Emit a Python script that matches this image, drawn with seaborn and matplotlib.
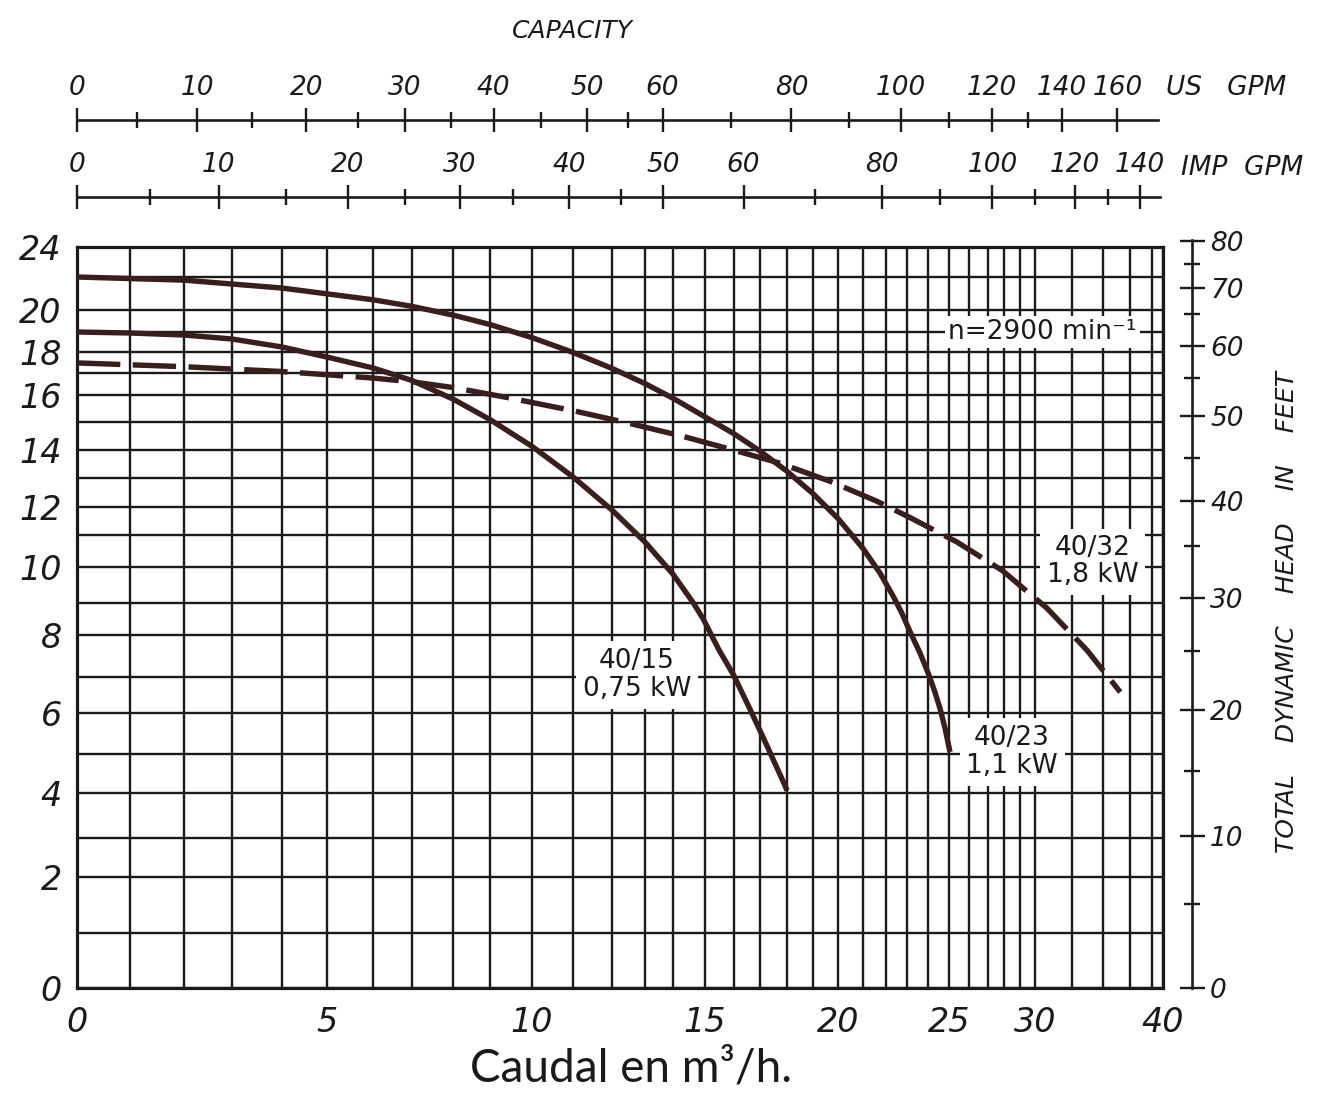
import numpy as np
import pandas as pd
import matplotlib
matplotlib.use("Agg")
import matplotlib.pyplot as plt
from matplotlib.ticker import FixedLocator, NullFormatter
import seaborn as sns

# ---------------- data ----------------
Q_4015 = [0, 1, 2, 3, 4, 5, 6, 7, 8, 9, 10, 11, 12, 13, 14, 14.63, 14.94, 15.47, 15.99, 16.62,
          17.12, 17.92, 18.0]
H_4015 = [19.0, 18.95, 18.85, 18.65, 18.25, 17.76, 17.24, 16.66, 15.85, 15.09, 14.13, 13.04, 11.89,
          10.78, 9.8, 9.01, 8.51, 7.66, 7.04, 6.1, 5.4, 4.2, 4.06]

Q_4023 = [0, 2, 4, 6, 7, 8, 9, 10, 11, 12, 13, 14, 15, 16, 17, 18, 19, 20, 21, 21.74, 22.35, 22.75,
          23.14, 23.62, 24.01, 24.33, 24.57, 24.81, 25.05]
H_4023 = [22.0, 21.81, 21.33, 20.62, 20.22, 19.77, 19.34, 18.72, 17.98, 17.22, 16.52, 15.88, 15.19,
          14.58, 13.96, 13.24, 12.46, 11.59, 10.58, 9.83, 9.18, 8.69, 8.11, 7.57, 7.09, 6.58, 6.13,
          5.63, 5.05]

Q_4032 = [0, 2, 4, 6, 7, 8, 9.4, 10.5, 11, 12.5, 14.3, 15.9, 17.7, 19.7, 21.6, 23.1, 25.4, 27.9,
          30.8, 33.7, 36.6]
H_4032 = [17.48, 17.3, 17.07, 16.77, 16.6, 16.34, 15.91, 15.57, 15.42, 14.96, 14.49, 14.02, 13.54,
          12.88, 12.2, 11.64, 10.78, 9.9, 8.84, 7.64, 6.58]

MODELS = ["40/15", "40/23", "40/32"]
MODEL_LABELS = ["40/15\n0,75 kW", "40/23\n1,1 kW", "40/32\n1,8 kW"]

Q_TICKS = [0, 5, 10, 15, 20, 25, 30, 40]
H_TICKS = [0, 2, 4, 6, 8, 10, 12, 14, 16, 18, 20, 24]
US_GPM_MAJOR = [0, 10, 20, 30, 40, 50, 60, 80, 100, 120, 140, 160]
US_GPM_MINOR = [5, 15, 25, 35, 45, 55, 70, 90, 110, 130]
IMP_GPM_MAJOR = [0, 10, 20, 30, 40, 50, 60, 80, 100, 120, 140]
IMP_GPM_MINOR = [5, 15, 25, 35, 45, 70, 90, 110, 130]
FEET_MAJOR = [0, 10, 20, 30, 40, 50, 60, 70, 80]
FEET_MINOR = [5, 15, 25, 35, 45, 55, 65, 75]
US_GPM_M3H = 0.227125
IMP_GPM_M3H = 0.272765
FT_M = 0.3048

# graph-paper grid values (nonlinear paper)
Q_GRID = list(range(0, 31)) + [32.5, 35, 37.5, 39, 40]
H_GRID = list(range(0, 21)) + [22, 24]

# ---------------- scale of the graph paper (layout) ----------------
Q_PAPER_POS = [77, 130, 184, 232, 282, 327, 373, 412, 453, 490, 532, 573, 612, 645, 673, 705, 734, 760,
               787, 813, 838, 863, 886, 907, 928, 949, 969, 988, 1004, 1020, 1035, 1072, 1103, 1130,
               1152, 1163]
H_PAPER_POS = [988, 933, 877, 838, 793, 754, 713, 677, 635, 603, 567, 535, 507, 478, 450, 422, 395, 373,
               352, 332, 310, 277, 247]


def paper_scale(values, positions):
    v = np.asarray(values, float)
    p = np.asarray(positions, float)
    if p[-1] < p[0]:
        p = -p
    s0 = (p[1] - p[0]) / (v[1] - v[0])
    s1 = (p[-1] - p[-2]) / (v[-1] - v[-2])

    def fwd(x):
        x = np.asarray(x, float)
        y = np.interp(x, v, p)
        y = np.where(x < v[0], p[0] + (x - v[0]) * s0, y)
        y = np.where(x > v[-1], p[-1] + (x - v[-1]) * s1, y)
        return y

    def inv(y):
        y = np.asarray(y, float)
        x = np.interp(y, p, v)
        x = np.where(y < p[0], v[0] + (y - p[0]) / s0, x)
        x = np.where(y > p[-1], v[-1] + (y - p[-1]) / s1, x)
        return x
    return fwd, inv


xf, xi = paper_scale(Q_GRID, Q_PAPER_POS)
yf, yi = paper_scale(H_GRID, H_PAPER_POS)

# ---------------- style ----------------
sns.set_theme(style="white")
plt.rcParams["font.family"] = ["DejaVu Sans"]
INK = "#1a1a1a"
CURVE = "#3a1e1e"

W, HH = 1319, 1102
fig = plt.figure(figsize=(W / 100, HH / 100), dpi=100)
fig.patch.set_facecolor("white")


def fx(px):
    return px / W


def fy(py):
    return 1 - py / HH


AX_L, AX_R, AX_T, AX_B = 77, 1163, 247, 988
ax = fig.add_axes([fx(AX_L), fy(AX_B), (AX_R - AX_L) / W, (AX_B - AX_T) / HH])

df = pd.concat([
    pd.DataFrame({"Q": Q_4015, "H": H_4015, "modelo": MODELS[0]}),
    pd.DataFrame({"Q": Q_4023, "H": H_4023, "modelo": MODELS[1]}),
    pd.DataFrame({"Q": Q_4032, "H": H_4032, "modelo": MODELS[2]}),
], ignore_index=True)

for m in MODELS:
    sns.lineplot(data=df[df["modelo"] == m], x="Q", y="H", ax=ax, color=CURVE, lw=3.9,
                 sort=False, estimator=None, legend=False, zorder=5)
    ln = ax.lines[-1]
    ln.set_solid_capstyle("butt")
    ln.set_solid_joinstyle("round")
    if m == "40/32":
        ln.set_dashes((8.0, 2.3))

ax.set_xscale("function", functions=(xf, xi))
ax.set_yscale("function", functions=(yf, yi))
ax.set_xlim(0, 40)
ax.set_ylim(0, 24)
ax.set_xlabel("")
ax.set_ylabel("")

ax.xaxis.set_major_locator(FixedLocator(Q_TICKS))
ax.xaxis.set_minor_locator(FixedLocator(Q_GRID))
ax.yaxis.set_major_locator(FixedLocator(H_TICKS))
ax.yaxis.set_minor_locator(FixedLocator(H_GRID))
ax.xaxis.set_minor_formatter(NullFormatter())
ax.yaxis.set_minor_formatter(NullFormatter())
ax.set_xticklabels([str(v) for v in Q_TICKS])
ax.set_yticklabels([str(v) for v in H_TICKS])
ax.set_axisbelow(True)
ax.grid(True, which="both", color=INK, lw=1.7)
ax.tick_params(which="minor", length=0)
ax.tick_params(axis="x", which="major", direction="out", length=9, width=1.8, color=INK,
               labelsize=24, labelcolor=INK, pad=4)
ax.tick_params(axis="y", which="major", direction="out", length=6, width=1.8, color=INK,
               labelsize=24, labelcolor=INK, pad=5)
for lbl in ax.get_xticklabels() + ax.get_yticklabels():
    lbl.set_fontstyle("italic")
for s in ax.spines.values():
    s.set_color(INK)
    s.set_linewidth(2.3)

# annotation boxes
box = dict(boxstyle="square,pad=0.25", facecolor="white", edgecolor="none")
ax.text(0.889, 0.885, "n=2900 min\u207b\u00b9", transform=ax.transAxes, ha="center", va="center",
        fontsize=19, color=INK, bbox=dict(boxstyle="square,pad=0.12", facecolor="white", edgecolor="none"),
        zorder=4)
ax.text(0.5157, 0.4224, MODEL_LABELS[0], transform=ax.transAxes, ha="center", va="center",
        fontsize=19, color=INK, linespacing=1.12, bbox=box, zorder=4)
ax.text(0.861, 0.3185, MODEL_LABELS[1], transform=ax.transAxes, ha="center", va="center",
        fontsize=19, color=INK, linespacing=1.12, bbox=box, zorder=4)
ax.text(0.9355, 0.575, MODEL_LABELS[2], transform=ax.transAxes, ha="center", va="center",
        fontsize=19, color=INK, linespacing=1.05, bbox=box, zorder=4)


# ---------------- top capacity rulers ----------------
def top_ruler(ypix, major, minor, conv, end_q):
    r = fig.add_axes([fx(AX_L), fy(ypix), (AX_R - AX_L) / W, 0.0001])
    r.set_xscale("function", functions=(xf, xi))
    r.set_xlim(0, 40)
    r.set_ylim(0, 1)
    r.patch.set_visible(False)
    for s in ["top", "left", "right"]:
        r.spines[s].set_visible(False)
    r.spines["bottom"].set_bounds(0, end_q)
    r.spines["bottom"].set_linewidth(1.9)
    r.spines["bottom"].set_color(INK)
    r.xaxis.set_major_locator(FixedLocator([g * conv for g in major]))
    r.xaxis.set_minor_locator(FixedLocator([g * conv for g in minor]))
    r.set_xticklabels([str(g) for g in major])
    r.xaxis.set_minor_formatter(NullFormatter())
    r.set_yticks([])
    r.tick_params(axis="x", which="both", direction="inout", bottom=True, top=False,
                  labelbottom=False, labeltop=True, color=INK, width=1.7)
    r.tick_params(axis="x", which="major", length=17, labelsize=19, labelcolor=INK, pad=5)
    r.tick_params(axis="x", which="minor", length=11)
    for lbl in r.get_xticklabels():
        lbl.set_fontstyle("italic")
    return r


top_ruler(120, US_GPM_MAJOR, US_GPM_MINOR, US_GPM_M3H, 39.5)
top_ruler(197, IMP_GPM_MAJOR, IMP_GPM_MINOR, IMP_GPM_M3H, 39.7)

fig.text(fx(572), fy(31), "CAPACITY", ha="center", va="center", fontsize=18, fontstyle="italic", color=INK)
fig.text(fx(1166), fy(88), "US   GPM", ha="left", va="center", fontsize=19, fontstyle="italic", color=INK)
fig.text(fx(1181), fy(168), "IMP  GPM", ha="left", va="center", fontsize=19, fontstyle="italic", color=INK)

# ---------------- right feet ruler ----------------
H_TOP_R = 24.6
main_h = (AX_B - AX_T) / HH
rr_h = main_h * (yf(H_TOP_R) - yf(0)) / (yf(24) - yf(0))
rr = fig.add_axes([fx(1192), fy(AX_B), 0.0001, float(rr_h)])
rr.set_yscale("function", functions=(yf, yi))
rr.set_ylim(0, H_TOP_R)
rr.set_xlim(0, 1)
rr.patch.set_visible(False)
for s in ["top", "bottom", "right"]:
    rr.spines[s].set_visible(False)
rr.spines["left"].set_bounds(0, 80 * FT_M + 0.05)
rr.spines["left"].set_linewidth(1.9)
rr.spines["left"].set_color(INK)
rr.yaxis.set_major_locator(FixedLocator([f * FT_M for f in FEET_MAJOR]))
rr.yaxis.set_minor_locator(FixedLocator([f * FT_M for f in FEET_MINOR]))
rr.set_yticklabels([str(f) for f in FEET_MAJOR])
rr.yaxis.set_minor_formatter(NullFormatter())
rr.set_xticks([])
rr.tick_params(axis="y", which="both", direction="inout", left=True, right=False,
               labelleft=False, labelright=True, color=INK, width=1.7)
rr.tick_params(axis="y", which="major", length=18, labelsize=19, labelcolor=INK, pad=4)
rr.tick_params(axis="y", which="minor", length=11)
for lbl in rr.get_yticklabels():
    lbl.set_fontstyle("italic")

fig.text(fx(1287), fy(612), "TOTAL    DYNAMIC    HEAD    IN    FEET", rotation=90,
         ha="center", va="center", fontsize=18, fontstyle="italic", color=INK)

# ---------------- x label ----------------
fig.text(fx(631), fy(1068), "Caudal en m\u00b3/h.", ha="center", va="center", fontsize=33,
         family=["Lato", "DejaVu Sans"], color=INK)

fig.savefig("out.png", dpi=100, facecolor="white")
